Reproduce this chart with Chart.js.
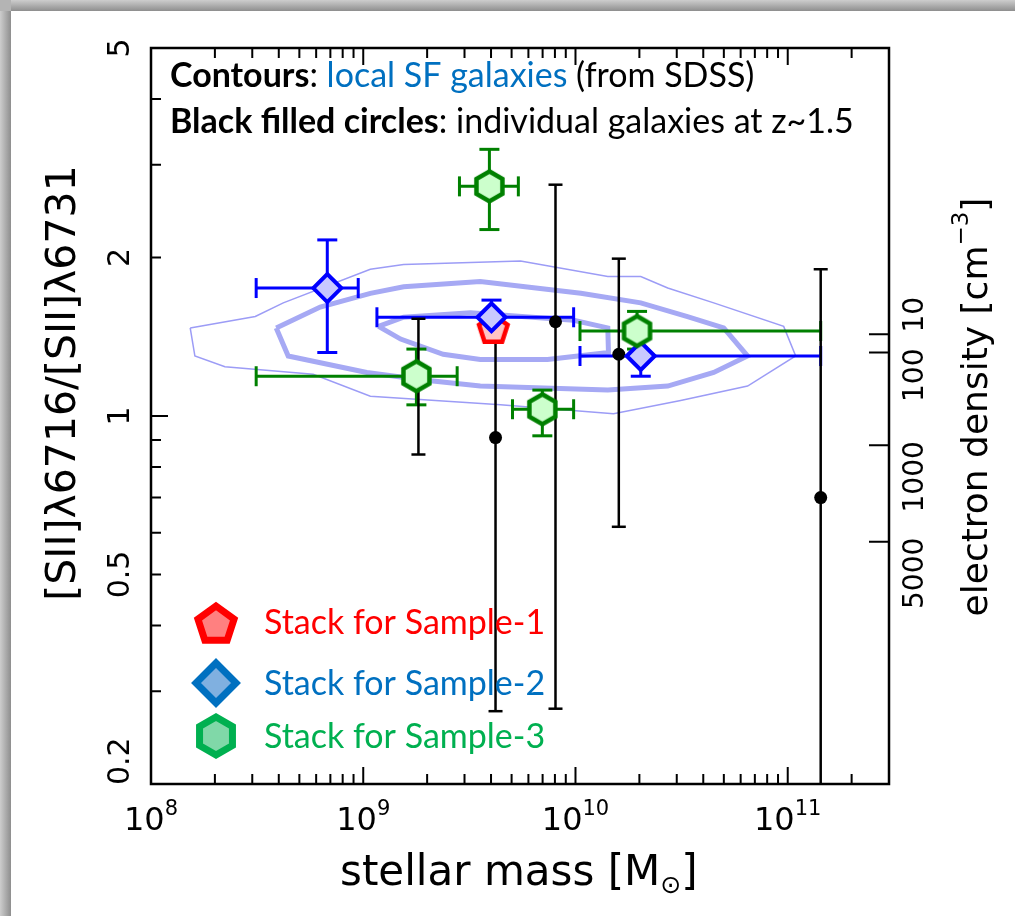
<!DOCTYPE html>
<html>
<head>
<meta charset="utf-8">
<script src="https://cdn.jsdelivr.net/npm/chart.js@4.4.1/dist/chart.umd.min.js"></script>
<style>
    html, body { margin: 0; padding: 0; overflow: hidden; background: #fff; }
    canvas { display: block; }
</style>
</head>
<body>
<canvas id="chart" width="1015" height="916"></canvas>
<script>
// axis ranges
const massMin = 1e8, massMax = 3e11;
const ratioMin = 0.2, ratioMax = 5;

// tick labels
const massDecades = [8, 9, 10, 11];
const ratioTickValues = [0.2, 0.5, 1, 2, 5];
const ratioTickLabels = ['0.2', '0.5', '1', '2', '5'];
const ratioMinorTicks = [0.3, 0.4, 0.5, 0.6, 0.7, 0.8, 0.9, 2, 3, 4];
const densityLabels = ['10', '100', '1000', '5000'];
const densityRatio = [1.43, 1.32, 0.88, 0.577];

// individual galaxies at z~1.5
const galMass = [1.82e9, 4.2e9, 8.05e9, 1.6e10, 1.43e11];
const galRatio = [1.17, 0.91, 1.51, 1.31, 0.70];
const galRatioLo = [0.845, 0.275, 0.278, 0.616, 0.1];
const galRatioHi = [1.53, 1.46, 2.75, 1.99, 1.90];

// stack for sample-1
const s1Mass = [4.1e9];
const s1Ratio = [1.46];

// stack for sample-2
const s2Mass = [6.77e8, 4.02e9, 2.03e10];
const s2Ratio = [1.75, 1.54, 1.30];
const s2MassLo = [3.13e8, 1.16e9, 1.05e10];
const s2MassHi = [9.47e8, 9.8e9, 1.43e11];
const s2RatioLo = [1.32, 1.445, 1.19];
const s2RatioHi = [2.16, 1.66, 1.445];

// stack for sample-3
const s3Mass = [3.93e9, 1.78e9, 6.98e9, 1.95e10];
const s3Ratio = [2.73, 1.19, 1.03, 1.45];
const s3MassLo = [2.84e9, 3.13e8, 5.05e9, 1.05e10];
const s3MassHi = [5.38e9, 2.77e9, 9.8e9, 1.43e11];
const s3RatioLo = [2.26, 1.05, 0.917, 1.34];
const s3RatioHi = [3.21, 1.34, 1.12, 1.58];

// SDSS contours, [mass, ratio]
const contourOuter = [
    [1.53e8, 1.47], [3.10e8, 1.545], [4.20e8, 1.64], [1.08e9, 1.90], [1.55e9, 1.94],
    [5.51e9, 1.97], [1.42e10, 1.84], [2.03e10, 1.84], [2.72e10, 1.75], [4.48e10, 1.64],
    [9.57e10, 1.48], [1.09e11, 1.30], [6.47e10, 1.14], [3.13e10, 1.07], [1.51e10, 1.01],
    [4.43e9, 1.05], [1.08e9, 1.09], [5.81e8, 1.20], [2.23e8, 1.24], [1.61e8, 1.30], [1.53e8, 1.47]
];
const contourMiddle = [
    [3.89e8, 1.47], [6.27e8, 1.61], [1.08e9, 1.71], [1.55e9, 1.76], [3.56e9, 1.80],
    [1.06e10, 1.71], [2.03e10, 1.64], [3.37e10, 1.545], [4.99e10, 1.47], [6.47e10, 1.30],
    [4.48e10, 1.21], [2.72e10, 1.14], [1.42e10, 1.12], [3.56e9, 1.14], [1.92e9, 1.17],
    [1.04e9, 1.21], [4.43e8, 1.30], [3.89e8, 1.47]
];
const contourInner = [
    [1.18e9, 1.48], [1.55e9, 1.54], [3.20e9, 1.57], [9.8e9, 1.52], [1.42e10, 1.47],
    [1.43e10, 1.32], [7.38e9, 1.28], [3.56e9, 1.28], [2.38e9, 1.31], [1.50e9, 1.40], [1.18e9, 1.48]
];

const pgFont = '"DejaVu Sans", sans-serif';
const pptFont = 'Lato, "Open Sans", sans-serif';

function points(xs, ys) {
    return xs.map((x, i) => ({ x: x, y: ys[i] }));
}

// vertical bars: lo/hi pairs split by gaps
function vBars(xs, lo, hi) {
    const out = [];
    xs.forEach((x, i) => { out.push({ x: x, y: lo[i] }, { x: x, y: hi[i] }, { x: x, y: null }); });
    return out;
}

function hBars(ys, lo, hi) {
    const out = [];
    ys.forEach((y, i) => { out.push({ x: lo[i], y: y }, { x: hi[i], y: y }, { x: null, y: y }); });
    return out;
}

function polyPath(g, cx, cy, sides, r, rot) {
    g.beginPath();
    for (let i = 0; i < sides; i++) {
        const a = rot + i * 2 * Math.PI / sides;
        const px = cx + r * Math.cos(a), py = cy + r * Math.sin(a);
        if (i) g.lineTo(px, py); else g.moveTo(px, py);
    }
    g.closePath();
}

function polySprite(sides, r, fill, stroke, lw) {
    const size = Math.ceil(2 * (r + lw)) + 2;
    const c = document.createElement('canvas');
    c.width = c.height = size;
    const g = c.getContext('2d');
    polyPath(g, size / 2, size / 2, sides, r, -Math.PI / 2);
    g.fillStyle = fill;
    g.fill();
    g.lineWidth = lw;
    g.strokeStyle = stroke;
    g.stroke();
    return c;
}

const hexMark = polySprite(6, 15, '#ccffcc', '#008000', 4.5);
const pentMark = polySprite(5, 15, '#ffc4c4', '#ff0000', 4.5);

function contourSet(pts, width, color) {
    return {
        data: pts.map(p => ({ x: p[0], y: p[1] })),
        showLine: true, borderColor: color, borderWidth: width,
        pointRadius: 0, tension: 0, order: 20
    };
}

function barSet(data, color, width, cap, rot, order) {
    return {
        data: data, showLine: true, spanGaps: false,
        borderColor: color, borderWidth: width,
        pointStyle: 'line', pointRadius: cap, pointRotation: rot,
        pointBorderColor: color, pointBorderWidth: width, order: order
    };
}

function vtext(ctx, str, x, y, align) {
    ctx.save();
    ctx.translate(x, y);
    ctx.rotate(-Math.PI / 2);
    ctx.textAlign = align || 'center';
    ctx.textBaseline = 'middle';
    ctx.fillText(str, 0, 0);
    ctx.restore();
}

// runs of [text, font, color, dy] drawn one after another
function runs(ctx, parts, x, y) {
    ctx.textAlign = 'left';
    ctx.textBaseline = 'alphabetic';
    parts.forEach(p => {
        ctx.font = p[1];
        ctx.fillStyle = p[2];
        ctx.fillText(p[0], x, y + (p[3] || 0));
        x += ctx.measureText(p[0]).width;
    });
    return x;
}

// white sheet with a grey shaded edge along the top and left
const sheetPlugin = {
    id: 'sheet',
    beforeDraw(chart) {
        const ctx = chart.ctx;
        const w = chart.width, h = chart.height, e = 11;
        ctx.save();
        ctx.fillStyle = '#fff';
        ctx.fillRect(0, 0, w, h);
        let g = ctx.createLinearGradient(0, 0, 0, e);
        g.addColorStop(0, '#cdcdcd');
        g.addColorStop(1, '#8e8e8e');
        ctx.fillStyle = g;
        ctx.fillRect(e, 0, w - e, e);
        g = ctx.createLinearGradient(0, 0, e, 0);
        g.addColorStop(0, '#cdcdcd');
        g.addColorStop(1, '#8e8e8e');
        ctx.fillStyle = g;
        ctx.fillRect(0, e, e, h - e);
        ctx.fillStyle = '#b4b4b4';
        ctx.fillRect(0, 0, e, e);
        ctx.restore();
    }
};

const framePlugin = {
    id: 'frame',
    afterDraw(chart) {
        const ctx = chart.ctx;
        const a = chart.chartArea;
        const xs = chart.scales.x, ys = chart.scales.y;
        ctx.save();
        ctx.strokeStyle = '#000';
        ctx.fillStyle = '#000';
        ctx.lineWidth = 2.5;
        ctx.strokeRect(a.left, a.top, a.right - a.left, a.bottom - a.top);

        // mass ticks on bottom and top
        ctx.lineWidth = 2;
        ctx.beginPath();
        massDecades.forEach(d => {
            for (let k = 1; k <= 9; k++) {
                const v = k * Math.pow(10, d);
                if (v > massMax) break;
                const px = xs.getPixelForValue(v);
                const len = k === 1 ? 17 : 10;
                ctx.moveTo(px, a.bottom); ctx.lineTo(px, a.bottom - len);
                ctx.moveTo(px, a.top); ctx.lineTo(px, a.top + len);
            }
        });
        // ratio ticks on the left
        ratioMinorTicks.forEach(v => {
            const py = ys.getPixelForValue(v);
            ctx.moveTo(a.left, py); ctx.lineTo(a.left + 10, py);
        });
        const p1 = ys.getPixelForValue(1);
        ctx.moveTo(a.left, p1); ctx.lineTo(a.left + 17, p1);
        // electron density ticks on the right
        densityRatio.forEach(v => {
            const py = ys.getPixelForValue(v);
            ctx.moveTo(a.right, py); ctx.lineTo(a.right - 20, py);
        });
        ctx.stroke();

        // ratio labels
        ctx.font = '30px ' + pgFont;
        ratioTickValues.forEach((v, i) => {
            const py = ys.getPixelForValue(v);
            if (v === ratioMin) vtext(ctx, ratioTickLabels[i], 121, a.bottom + 1, 'left');
            else vtext(ctx, ratioTickLabels[i], 121, py, 'center');
        });

        // mass labels 10^n
        massDecades.forEach(d => {
            const px = xs.getPixelForValue(Math.pow(10, d));
            ctx.font = '32px ' + pgFont;
            const w1 = ctx.measureText('10').width;
            ctx.font = '21px ' + pgFont;
            const w2 = ctx.measureText(String(d)).width;
            const x0 = px - (w1 + w2) / 2;
            runs(ctx, [['10', '32px ' + pgFont, '#000'], [String(d), '21px ' + pgFont, '#000', -15]], x0, 830);
        });

        // electron density labels, pushed up where they would collide
        ctx.font = '28px ' + pgFont;
        let prevTop = Infinity;
        for (let i = densityLabels.length - 1; i >= 0; i--) {
            const py = ys.getPixelForValue(densityRatio[i]);
            const w = ctx.measureText(densityLabels[i]).width;
            let top = py - 4;
            if (top + w > prevTop - 16) top = prevTop - 16 - w;
            vtext(ctx, densityLabels[i], 916, top, 'right');
            prevTop = top;
        }

        // axis titles
        let tx = 340;
        tx = runs(ctx, [['stellar mass [M', '42px ' + pgFont, '#000']], tx, 885);
        tx = runs(ctx, [['\u2299', '25px ' + pgFont, '#000', 8]], tx, 885);
        runs(ctx, [[']', '42px ' + pgFont, '#000']], tx, 885);

        ctx.font = '41px ' + pgFont;
        vtext(ctx, '[SII]\u03bb6716/[SII]\u03bb6731', 64, 383, 'center');

        // electron density [cm^-3], rotated
        ctx.save();
        ctx.translate(978, 407);
        ctx.rotate(-Math.PI / 2);
        const parts = [['electron density [cm', '36px ' + pgFont, '#000'], ['\u22123', '23px ' + pgFont, '#000', -16], [']', '36px ' + pgFont, '#000']];
        let total = 0;
        parts.forEach(p => { ctx.font = p[1]; total += ctx.measureText(p[0]).width; });
        ctx.textBaseline = 'middle';
        let rx = -total / 2;
        parts.forEach(p => {
            ctx.font = p[1];
            ctx.textAlign = 'left';
            ctx.fillStyle = p[2];
            ctx.fillText(p[0], rx, p[3] || 0);
            rx += ctx.measureText(p[0]).width;
        });
        ctx.restore();

        // notes in the top-left corner
        runs(ctx, [
            ['Contours', 'bold 34px ' + pptFont, '#000'],
            [': ', '34px ' + pptFont, '#000'],
            ['local SF galaxies', '34px ' + pptFont, '#0070c0'],
            [' (from SDSS)', '34px ' + pptFont, '#000']
        ], 170, 87);
        runs(ctx, [
            ['Black filled circles', 'bold 34px ' + pptFont, '#000'],
            [': individual galaxies at z~1.5', '34px ' + pptFont, '#000']
        ], 170, 133);

        // stack legend
        const leg = [
            [5, 19, '#ff8080', '#ff0000', 'Stack for Sample-1', 622],
            [4, 20, '#80b0e0', '#0070c0', 'Stack for Sample-2', 683],
            [6, 19, '#80d8a8', '#00b050', 'Stack for Sample-3', 736]
        ];
        leg.forEach(l => {
            ctx.save();
            ctx.lineJoin = 'miter';
            if (l[0] === 4) {
                ctx.beginPath();
                ctx.moveTo(216, l[5] - l[1]); ctx.lineTo(216 + l[1], l[5]);
                ctx.lineTo(216, l[5] + l[1]); ctx.lineTo(216 - l[1], l[5]);
                ctx.closePath();
            } else {
                polyPath(ctx, 216, l[5] + (l[0] === 5 ? 3 : 0), l[0], l[1], -Math.PI / 2);
            }
            ctx.fillStyle = l[2];
            ctx.fill();
            ctx.lineWidth = 7;
            ctx.strokeStyle = l[3];
            ctx.stroke();
            ctx.restore();
            runs(ctx, [[l[4], '34px ' + pptFont, l[3]]], 264, l[5] + 12);
        });
        ctx.restore();
    }
};

const datasets = [
    contourSet(contourOuter, 1.5, '#9c9cf6'),
    contourSet(contourMiddle, 5, '#a6a9f4'),
    contourSet(contourInner, 5, '#a6a9f4'),
    barSet(vBars(s2Mass, s2RatioLo, s2RatioHi), '#0000ff', 3, 10, 0, 16),
    barSet(hBars(s2Ratio, s2MassLo, s2MassHi), '#0000ff', 3, 10, 90, 16),
    barSet(vBars(s3Mass, s3RatioLo, s3RatioHi), '#008000', 3, 10, 0, 15),
    barSet(hBars(s3Ratio, s3MassLo, s3MassHi), '#008000', 3, 10, 90, 15),
    barSet(vBars(galMass, galRatioLo, galRatioHi), '#000000', 2.5, 7, 0, 14),
    {
        data: points(galMass, galRatio), pointStyle: 'circle', pointRadius: 6.5,
        backgroundColor: '#000', borderColor: '#000', borderWidth: 0, order: 13
    },
    { data: points(s1Mass, s1Ratio), pointStyle: pentMark, order: 12 },
    {
        data: points(s2Mass, s2Ratio), pointStyle: 'rectRot', pointRadius: 14,
        backgroundColor: '#c8c8ff', borderColor: '#0000ff', borderWidth: 4, order: 11
    },
    { data: points(s3Mass, s3Ratio), pointStyle: hexMark, order: 10 }
];

new Chart(document.getElementById('chart'), {
    type: 'scatter',
    data: { datasets: datasets },
    options: {
        responsive: false,
        animation: false,
        devicePixelRatio: 1,
        layout: { padding: { left: 151, top: 48, right: 1015 - 889, bottom: 916 - 784 } },
        plugins: { legend: { display: false }, tooltip: { enabled: false } },
        scales: {
            x: { type: 'logarithmic', min: massMin, max: massMax, display: false },
            y: { type: 'logarithmic', min: ratioMin, max: ratioMax, display: false }
        }
    },
    plugins: [sheetPlugin, framePlugin]
});
</script>
</body>
</html>
